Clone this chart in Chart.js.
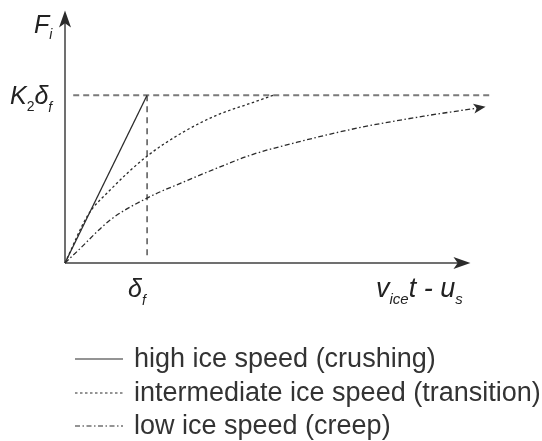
<!DOCTYPE html>
<html>
<head>
  <title>Ice force curves</title>
  <meta http-equiv="Content-Type" content="text/html; charset=utf-8" />
  <script src="https://cdn.jsdelivr.net/npm/chart.js@4.4.0/dist/chart.umd.min.js"></script>
  <style>
    body { margin: 0; background-color: #ffffff; }
  </style>
</head>
<body>
  <canvas id="chart" width="542" height="441"></canvas>
  <script>
    // x in units of delta_f, y in units of K2*delta_f
    var crushX = [0, 1];
    var crushY = [0, 1];
    var transX = [0, 0.28, 0.55, 1.0, 1.44, 1.85, 2.26, 2.54];
    var transY = [0, 0.286, 0.435, 0.637, 0.78, 0.881, 0.952, 1.0];
    var creepX = [0, 0.15, 0.55, 1.0, 1.44, 1.85, 2.26, 2.83, 3.56, 4.37, 5.10];
    var creepY = [0, 0.07, 0.256, 0.387, 0.482, 0.565, 0.643, 0.72, 0.804, 0.875, 0.929];
    var levelX = [0.1, 5.18];
    var levelY = [1, 1];
    var dfX = [1, 1];
    var dfY = [1, 0.02];
    var legendLabels = ["high ice speed (crushing)", "intermediate ice speed (transition)", "low ice speed (creep)"];

    function pts(xs, ys) {
      return xs.map(function (x, i) { return { x: x, y: ys[i] }; });
    }

    var ink = "#2b2b2b";

    function label(ctx, x, y, parts) {
      // parts: [text, size, dy, upright]
      parts.forEach(function (p) {
        ctx.font = (p[3] ? "" : "italic ") + p[1] + "px 'Liberation Sans', Arial, sans-serif";
        ctx.fillText(p[0], x, y + p[2]);
        x += ctx.measureText(p[0]).width;
      });
    }

    function arrow(ctx, tipX, tipY, ang, len, half) {
      ctx.save();
      ctx.translate(tipX, tipY);
      ctx.rotate(ang);
      ctx.beginPath();
      ctx.moveTo(0, 0);
      ctx.lineTo(-len, -half);
      ctx.lineTo(-len * 0.75, 0);
      ctx.lineTo(-len, half);
      ctx.closePath();
      ctx.fill();
      ctx.restore();
    }

    var decor = {
      id: "decor",
      beforeDatasetsDraw: function (chart) {
        var ctx = chart.ctx, xs = chart.scales.x, ys = chart.scales.y;
        var x0 = xs.getPixelForValue(0), y0 = ys.getPixelForValue(0);
        ctx.save();
        ctx.strokeStyle = "#707070";
        ctx.lineWidth = 2;
        ctx.beginPath();
        ctx.moveTo(x0, y0);
        ctx.lineTo(xs.getPixelForValue(4.85), y0);
        ctx.moveTo(x0, y0);
        ctx.lineTo(x0, ys.getPixelForValue(1.45));
        ctx.stroke();
        ctx.restore();
      },
      afterDatasetsDraw: function (chart) {
        var ctx = chart.ctx, xs = chart.scales.x, ys = chart.scales.y;
        var x0 = xs.getPixelForValue(0), y0 = ys.getPixelForValue(0);
        ctx.save();
        ctx.fillStyle = ink;
        arrow(ctx, xs.getPixelForValue(4.94), y0, 0, 17, 6);
        arrow(ctx, x0, ys.getPixelForValue(1.505), -Math.PI / 2, 17, 6);
        var m = chart.getDatasetMeta(2).data;
        var a = m[m.length - 2], b = m[m.length - 1];
        arrow(ctx, b.x + 2, b.y - 0.3, Math.atan2(b.y - a.y, b.x - a.x), 12, 5);

        ctx.fillStyle = "#222";
        ctx.textBaseline = "alphabetic";
        label(ctx, 34, 33, [["F", 25, 0], ["i", 14, 6]]);
        label(ctx, 10, 104, [["K", 25, 0], ["2", 14, 7, true], ["\u03b4", 25, 0], ["f", 14, 8]]);
        label(ctx, 128, 297, [["\u03b4", 25, 0], ["f", 14, 8]]);
        label(ctx, 376, 297, [["v", 27, 0], ["ice", 15, 7], ["t - u", 27, 0], ["s", 15, 7]]);

        // legend
        ctx.font = "27px 'Liberation Sans', Arial, sans-serif";
        ctx.fillStyle = "#333";
        var rows = [359, 393, 426];
        for (var i = 0; i < 3; i++) {
          var ds = chart.data.datasets[i];
          ctx.save();
          ctx.strokeStyle = ds.borderColor;
          ctx.lineWidth = 1.2;
          ctx.setLineDash(ds.borderDash || []);
          ctx.beginPath();
          ctx.moveTo(75, rows[i]);
          ctx.lineTo(123, rows[i]);
          ctx.stroke();
          ctx.restore();
          ctx.fillText(legendLabels[i], 134, rows[i] + 8);
        }
        ctx.restore();
      }
    };

    var chart = new Chart(document.getElementById("chart"), {
      type: "scatter",
      data: {
        datasets: [{
          label: legendLabels[0],
          data: pts(crushX, crushY),
          showLine: true,
          borderColor: ink,
          borderWidth: 1.3,
          pointRadius: 0,
          clip: false
        }, {
          label: legendLabels[1],
          data: pts(transX, transY),
          showLine: true,
          borderColor: ink,
          borderWidth: 1.3,
          borderDash: [2.5, 2.5],
          cubicInterpolationMode: "monotone",
          pointRadius: 0,
          clip: false
        }, {
          label: legendLabels[2],
          data: pts(creepX, creepY),
          showLine: true,
          borderColor: ink,
          borderWidth: 1.3,
          borderDash: [5, 2.5, 1.5, 2.5],
          cubicInterpolationMode: "monotone",
          pointRadius: 0,
          clip: false
        }, {
          label: "level",
          data: pts(levelX, levelY),
          showLine: true,
          borderColor: "#7a7a7a",
          borderWidth: 1.8,
          borderDash: [6, 4],
          pointRadius: 0,
          clip: false
        }, {
          label: "delta_f",
          data: pts(dfX, dfY),
          showLine: true,
          borderColor: ink,
          borderWidth: 1.2,
          borderDash: [6, 5],
          pointRadius: 0,
          clip: false
        }]
      },
      options: {
        responsive: false,
        animation: false,
        layout: { padding: { left: 65, right: 42, top: 8, bottom: 178 } },
        plugins: { legend: { display: false }, tooltip: { enabled: false } },
        scales: {
          x: { type: "linear", min: 0, max: 5.3, display: false },
          y: { type: "linear", min: 0, max: 1.52, display: false }
        }
      },
      plugins: [decor]
    });
  </script>
</body>
</html>
